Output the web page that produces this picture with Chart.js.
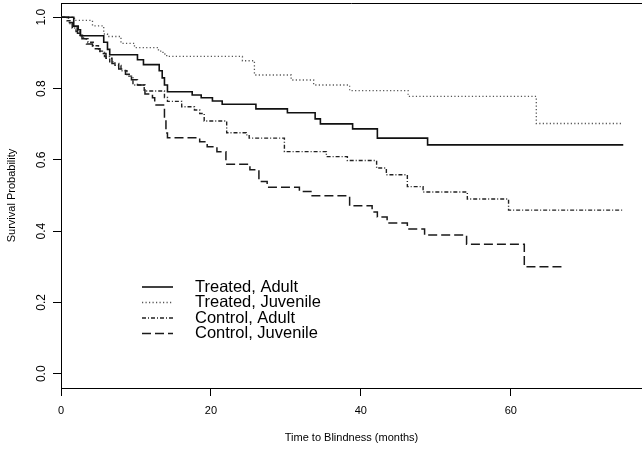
<!DOCTYPE html>
<html>
<head>
<meta charset="utf-8">
<script src="https://cdn.jsdelivr.net/npm/chart.js@4/dist/chart.umd.min.js"></script>
<style>
  body { margin: 0; background: #fff; }
  #wrap { width: 642px; height: 452px; }
</style>
</head>
<body>
<div id="wrap"><canvas id="km" width="642" height="452"></canvas></div>
<script>
// Kaplan-Meier step curves (months, survival)
const seriesNames = ['Treated, Adult', 'Treated, Juvenile', 'Control, Adult', 'Control, Juvenile'];

const treatedAdultT = [0, 1.7, 2.3, 2.6, 5.7, 6.2, 6.5, 10.2, 11.0, 13.1, 13.5, 13.8, 14.2, 17.5, 18.7, 20.2, 21.5, 26.0, 30.2, 33.9, 34.6, 38.9, 42.2, 48.9, 75];
const treatedAdultS = [1.0, 0.975, 0.965, 0.948, 0.93, 0.91, 0.895, 0.881, 0.867, 0.85, 0.83, 0.81, 0.791, 0.782, 0.774, 0.765, 0.756, 0.743, 0.732, 0.715, 0.701, 0.687, 0.661, 0.642, 0.642];

const treatedJuvT = [0, 1.8, 4.2, 5.7, 6.2, 8.0, 9.8, 13.0, 13.6, 14.1, 24.2, 25.8, 30.7, 33.7, 38.5, 46.3, 63.4, 75];
const treatedJuvS = [1.0, 0.991, 0.976, 0.953, 0.946, 0.927, 0.915, 0.905, 0.897, 0.890, 0.878, 0.838, 0.824, 0.81, 0.794, 0.778, 0.702, 0.702];

const controlAdultT = [0, 0.8, 1.2, 1.6, 2.0, 2.5, 3.0, 3.6, 4.3, 5.0, 5.8, 6.5, 7.2, 8.0, 8.8, 9.6, 11.1, 13.8, 14.2, 16.1, 17.8, 18.5, 19.1, 22.1, 24.7, 25.1, 29.8, 35.4, 38.2, 42.1, 43.4, 46.2, 48.3, 54.2, 59.7, 75];
const controlAdultS = [1.0, 0.99, 0.98, 0.97, 0.96, 0.95, 0.94, 0.93, 0.92, 0.905, 0.89, 0.875, 0.865, 0.85, 0.835, 0.81, 0.793, 0.775, 0.764, 0.749, 0.74, 0.73, 0.709, 0.676, 0.67, 0.661, 0.623, 0.609, 0.598, 0.577, 0.558, 0.525, 0.51, 0.49, 0.459, 0.459];

const controlJuvT = [0, 1.0, 1.5, 2.2, 2.8, 3.4, 4.2, 5.2, 6.0, 6.8, 7.7, 8.6, 9.4, 10.2, 11.2, 12.2, 12.5, 13.8, 14.0, 14.2, 18.5, 19.5, 20.8, 22.0, 25.2, 26.4, 27.5, 31.8, 33.5, 38.5, 41.5, 42.2, 43.5, 46.2, 48.5, 54.1, 61.8, 66.9];
const controlJuvS = [1.0, 0.985, 0.97, 0.955, 0.94, 0.925, 0.912, 0.898, 0.885, 0.87, 0.855, 0.84, 0.825, 0.81, 0.785, 0.774, 0.754, 0.72, 0.675, 0.662, 0.651, 0.637, 0.623, 0.588, 0.572, 0.539, 0.523, 0.511, 0.499, 0.471, 0.454, 0.44, 0.423, 0.406, 0.389, 0.363, 0.30, 0.30];

const xTicks = [0, 20, 40, 60];
const yTicks = [0, 0.2, 0.4, 0.6, 0.8, 1.0];

const FONT = '"Liberation Sans", Arial, sans-serif';

function steps(t, s) {
    return t.map((v, i) => ({ x: v, y: s[i] }));
}

// box top edge, rotated y labels (R style) and the legend inside the plot
const extras = {
    id: 'extras',
    afterDraw(chart) {
        const { ctx, chartArea: a } = chart;
        const yScale = chart.scales.y;
        ctx.save();
        ctx.strokeStyle = '#000';
        ctx.lineWidth = 1;
        ctx.beginPath();
        ctx.moveTo(a.left, a.top + 0.5);
        ctx.lineTo(a.right, a.top + 0.5);
        ctx.stroke();

        ctx.fillStyle = '#000';
        ctx.font = '12px ' + FONT;
        ctx.textAlign = 'center';
        ctx.textBaseline = 'middle';
        yTicks.forEach(v => {
            ctx.save();
            ctx.translate(42, yScale.getPixelForValue(v));
            ctx.rotate(-Math.PI / 2);
            ctx.fillText(v.toFixed(1), 0, 0);
            ctx.restore();
        });

        ctx.textAlign = 'left';
        ctx.font = '16.5px ' + FONT;
        chart.data.datasets.forEach((ds, i) => {
            const y = 287 + i * 15.5;
            ctx.strokeStyle = ds.borderColor;
            ctx.lineWidth = ds.borderWidth;
            ctx.setLineDash(ds.borderDash || []);
            ctx.beginPath();
            ctx.moveTo(142, y);
            ctx.lineTo(173, y);
            ctx.stroke();
            ctx.setLineDash([]);
            ctx.fillText(ds.label, 195, y);
        });
        ctx.restore();
    }
};

const ctx = document.getElementById('km').getContext('2d');

new Chart(ctx, {
    type: 'line',
    data: {
        datasets: [
            { label: seriesNames[0], data: steps(treatedAdultT, treatedAdultS), borderColor: '#111', borderWidth: 1.6, borderDash: [] },
            { label: seriesNames[1], data: steps(treatedJuvT, treatedJuvS), borderColor: '#555', borderWidth: 1.3, borderDash: [1.2, 2.3] },
            { label: seriesNames[2], data: steps(controlAdultT, controlAdultS), borderColor: '#222', borderWidth: 1.4, borderDash: [4, 2, 1, 2] },
            { label: seriesNames[3], data: steps(controlJuvT, controlJuvS), borderColor: '#1a1a1a', borderWidth: 1.5, borderDash: [9, 4] }
        ].map(ds => Object.assign(ds, { stepped: true, pointRadius: 0, fill: false, tension: 0 }))
    },
    options: {
        responsive: false,
        animation: false,
        layout: { padding: { top: 3, right: 0, bottom: 0, left: 0 } },
        plugins: {
            legend: { display: false },
            tooltip: { enabled: false }
        },
        scales: {
            x: {
                type: 'linear',
                min: 0,
                max: 77.5,
                afterFit: s => { s.height = 64; },
                afterBuildTicks: s => { s.ticks = xTicks.map(v => ({ value: v })); },
                grid: { drawOnChartArea: false, drawTicks: true, tickLength: 8, tickColor: '#000' },
                border: { display: true, color: '#000', width: 1 },
                ticks: {
                    color: '#000',
                    padding: 8,
                    maxRotation: 0,
                    font: { family: FONT, size: 11 }
                },
                title: {
                    display: true,
                    text: 'Time to Blindness (months)',
                    color: '#000',
                    padding: { top: 0, bottom: 7 },
                    font: { family: FONT, size: 11 }
                }
            },
            y: {
                min: -0.04,
                max: 1.04,
                afterFit: s => { s.width = 61; },
                afterBuildTicks: s => { s.ticks = yTicks.map(v => ({ value: v })); },
                grid: { drawOnChartArea: false, drawTicks: true, tickLength: 8, tickColor: '#000' },
                border: { display: true, color: '#000', width: 1 },
                ticks: { display: false },
                title: {
                    display: true,
                    text: 'Survival Probability',
                    color: '#000',
                    padding: { top: 5, bottom: 0 },
                    font: { family: FONT, size: 11 }
                }
            }
        }
    },
    plugins: [extras]
});
</script>
</body>
</html>
